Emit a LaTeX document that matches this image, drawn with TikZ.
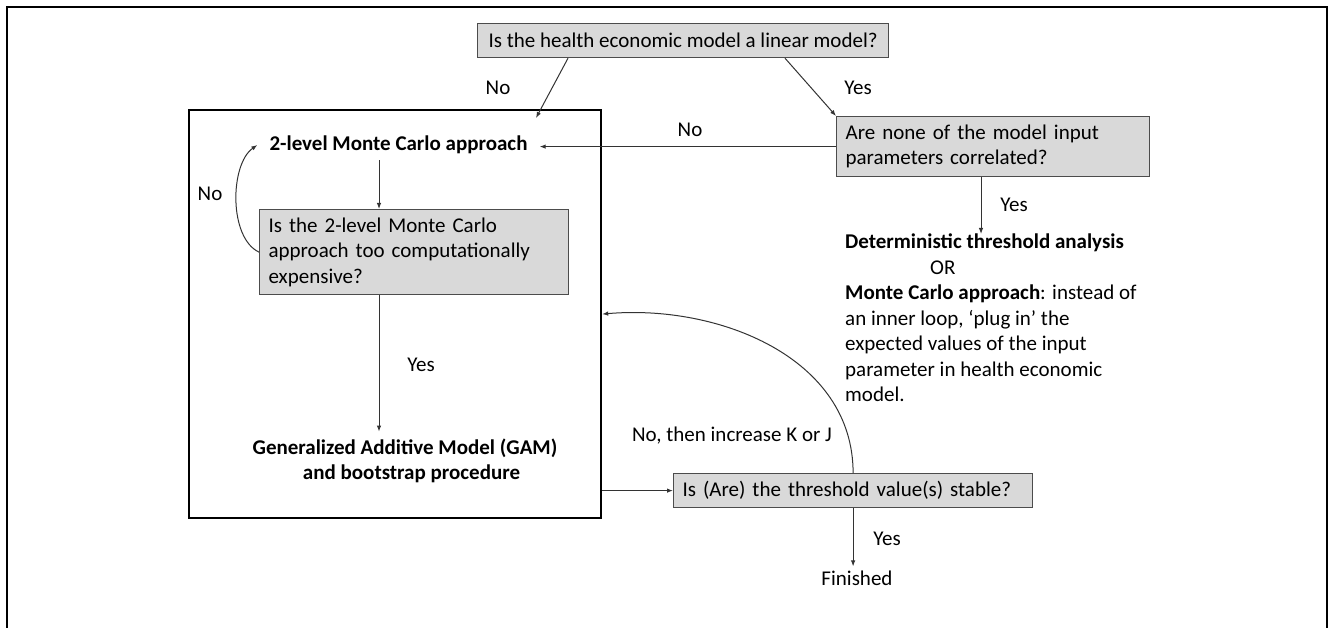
\documentclass[tikz,border=0pt]{standalone}
\usepackage{fontspec}
\setmainfont{Carlito}
\usetikzlibrary{arrows.meta}

\begin{document}
\begin{tikzpicture}[x=1pt,y=-1pt]
    \tikzstyle{every node}=[font=\fontsize{21}{25.5}\selectfont]
    \tikzstyle{qbox}=[draw=black!70, fill=black!15, line width=1.2pt, anchor=north west, align=left, inner xsep=9pt, inner ysep=0pt]
    \tikzstyle{lbl}=[inner sep=0pt]
    \tikzstyle{arr}=[draw=black!80, line width=1pt, -{Latex[length=6pt,width=4.5pt]}]
    \useasboundingbox (0,0) rectangle (1329,628);
    \draw[line width=2.2pt] (7,628) -- (7,7) -- (1327,7) -- (1327,628);
    % questions
    \node[qbox, minimum width=411pt, minimum height=34pt] (qlin) at (477,23) {Is the health economic model a linear model?};
    \node[qbox, text width=295pt, minimum height=60pt] (qcorr) at (836,116) {Are none of the model input\\parameters correlated?};
    \node[qbox, text width=291pt, minimum height=85pt] (qcomp) at (259,209) {Is the 2-level Monte Carlo\\approach too computationally\\expensive?};
    \node[qbox, text width=341pt, minimum height=34pt] (qstab) at (673,473) {Is (Are) the threshold value(s) stable?};
    % outcomes
    \node[draw, line width=2.2pt, minimum width=412pt, minimum height=408pt, inner sep=0pt, anchor=north west] (bigbox) at (188,109) {};
    \node[lbl, inner xsep=12pt, inner ysep=6pt] (mc2) at (398.5,145) {\textbf{2-level Monte Carlo approach}};
    \node[lbl, inner ysep=7pt, align=center] (gam) at (405,461) {\textbf{Generalized Additive Model (GAM)}\\\hspace*{13pt}\textbf{and bootstrap procedure}};
    \node[lbl, anchor=north west, align=left] (det) at (845,234) {\textbf{Deterministic threshold analysis}\\\hspace*{85pt}OR\\\textbf{Monte Carlo approach}: instead of\\an inner loop, ‘plug in’ the\\expected values of the input\\parameter in health economic\\model.};
    \node[lbl, inner ysep=4pt] (fin) at (857,578) {Finished};
    % labels
    \node[lbl] (lno1) at (498,88) {No};
    \node[lbl] (lyes1) at (858,88) {Yes};
    \node[lbl] (lno2) at (690,130) {No};
    \node[lbl] (lyes2) at (1014,205) {Yes};
    \node[lbl] (lno3) at (210,194) {No};
    \node[lbl] (lyes3) at (421,365) {Yes};
    \node[lbl] (lno4) at (732,436) {No, then increase K or J};
    \node[lbl] (lyes4) at (887,539) {Yes};
    % connectors
    \coordinate (axis) at (379,0);
    \coordinate (detaxis) at (981,0);
    \coordinate (noin) at (536,118);
    \draw[arr] ([xshift=91pt]qlin.south west) -- (noin);
    \draw[arr] ([xshift=308pt]qlin.south west) -- (qcorr.north west);
    \draw[arr] (qcorr.west) -- (qcorr.west -| mc2.east);
    \draw[arr] (qcorr.south -| detaxis) -- (det.north -| detaxis);
    \draw[arr] (mc2.south -| axis) -- (qcomp.north -| axis);
    \draw[arr] (qcomp.west) to[out=155,in=215,looseness=0.8] (mc2.west);
    \draw[arr] (qcomp.south -| axis) -- (gam.north -| axis);
    \draw[arr] (qstab.west -| bigbox.east) -- (qstab.west);
    \draw[arr] (qstab.north) to[out=90,in=5] (bigbox.east);
    \draw[arr] (qstab.south) -- (qstab.south |- fin.north);
\end{tikzpicture}
\end{document}
